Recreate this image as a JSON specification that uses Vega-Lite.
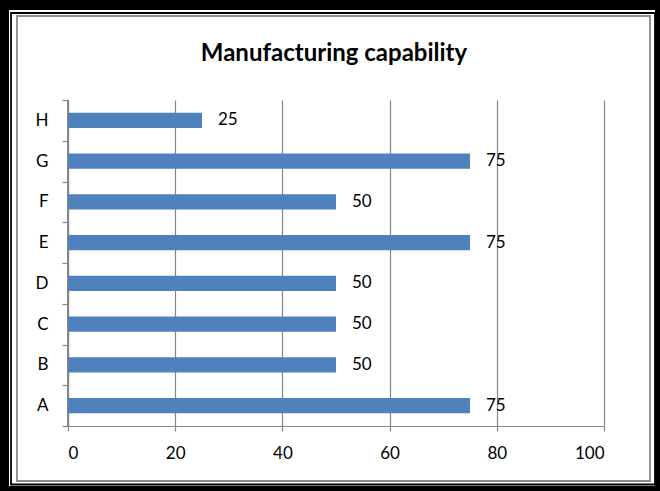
{
  "$schema": "https://vega.github.io/schema/vega-lite/v6.json",
  "width": 536,
  "height": 326,
  "autosize": {"type": "none"},
  "padding": {"left": 68, "top": 100, "right": 56, "bottom": 65},
  "background": "white",
  "config": {"view": {"stroke": null}},
  "title": {"text": "Manufacturing capability", "font": "Lato", "fontSize": 24, "fontWeight": "bold", "color": "#000000", "frame": "group", "anchor": "middle", "offset": -66, "dx": -2},
  "layer": [
    {
      "data": {"values": [{}]},
      "layer": [
        {"mark": {"type": "rect", "fill": null, "fillOpacity": 0, "stroke": "#000000", "strokeWidth": 10, "clip": false},
         "encoding": {
           "x": {"datum": -11.94, "type": "quantitative", "scale": {"domain": [0, 100], "nice": false, "zero": false}, "axis": null},
           "x2": {"datum": 110.45},
           "y": {"datum": -29.14, "type": "quantitative", "scale": {"domain": [0, 100], "nice": false, "zero": false, "reverse": true}, "axis": null},
           "y2": {"datum": 119.94}}},
        {"mark": {"type": "rect", "fill": null, "fillOpacity": 0, "stroke": "#000000", "strokeWidth": 1.8, "clip": false},
         "encoding": {
           "x": {"datum": -10.63, "type": "quantitative"},
           "x2": {"datum": 109.52},
           "y": {"datum": -26.69, "type": "quantitative"},
           "y2": {"datum": 117.95}}},
        {"mark": {"type": "rect", "fill": null, "fillOpacity": 0, "stroke": "#8c8c8c", "strokeWidth": 1.8, "clip": false},
         "encoding": {
           "x": {"datum": -9.52, "type": "quantitative"},
           "x2": {"datum": 108.58},
           "y": {"datum": -25.77, "type": "quantitative"},
           "y2": {"datum": 116.87}}}
      ]
    },
    {
      "data": {"values": [
        {"item": "A", "value": 75},
        {"item": "B", "value": 50},
        {"item": "C", "value": 50},
        {"item": "D", "value": 50},
        {"item": "E", "value": 75},
        {"item": "F", "value": 50},
        {"item": "G", "value": 75},
        {"item": "H", "value": 25}
      ]},
      "encoding": {
        "y": {"field": "item", "type": "nominal", "sort": "descending",
              "scale": {"paddingInner": 0, "paddingOuter": 0},
              "axis": {"orient": "left", "title": null, "domain": true, "domainColor": "#868686", "domainWidth": 1.2, "ticks": true, "tickColor": "#868686", "tickBand": "extent", "tickSize": 6, "tickWidth": 1.2, "labelFont": "Lato", "labelFontSize": 17, "labelColor": "#000000", "labelPadding": 14, "grid": false}},
        "x": {"field": "value", "type": "quantitative",
              "scale": {"domain": [0, 100], "nice": false},
              "axis": {"orient": "bottom", "title": null, "values": [0, 20, 40, 60, 80, 100], "grid": true, "gridColor": "#868686", "gridWidth": 1.2, "domainColor": "#868686", "domainWidth": 1.2, "tickColor": "#868686", "tickWidth": 1.2, "tickSize": 5, "labelFont": "Lato", "labelFontSize": 17, "labelColor": "#000000", "labelPadding": 14}}
      },
      "layer": [
        {"mark": {"type": "rule", "color": "#868686", "strokeWidth": 1.2},
         "encoding": {"x": {"datum": 0, "type": "quantitative"}, "y": null}},
        {"mark": {"type": "bar", "color": "#4F81BD", "height": {"band": 0.38}}},
        {"mark": {"type": "text", "align": "left", "baseline": "middle", "dx": 16, "font": "Lato", "fontSize": 17, "color": "#000000"},
         "encoding": {"text": {"field": "value", "type": "quantitative"}}}
      ]
    }
  ],
  "resolve": {"scale": {"x": "independent", "y": "independent"}, "axis": {"x": "independent", "y": "independent"}}
}
